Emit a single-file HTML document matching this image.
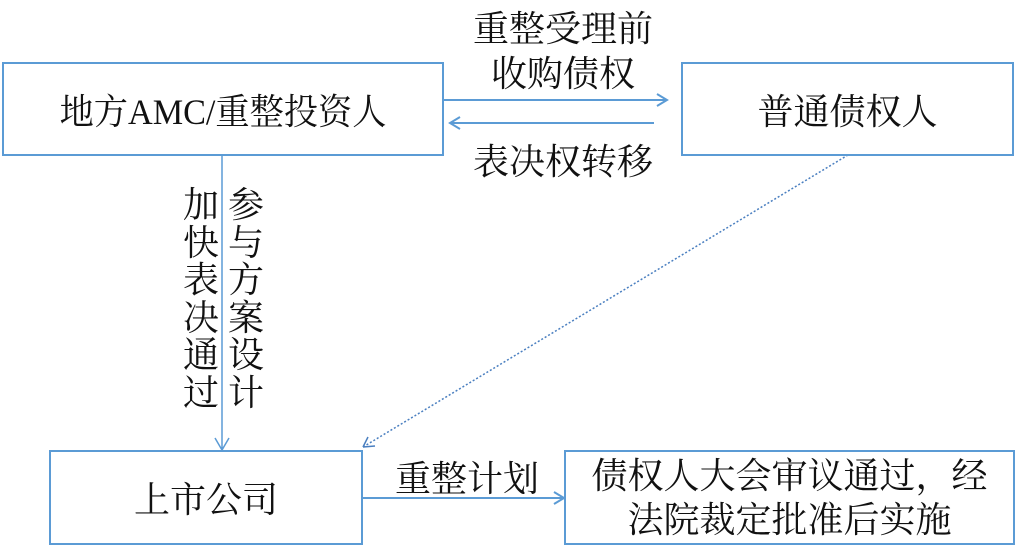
<!DOCTYPE html>
<html><head><meta charset="utf-8"><style>
body{margin:0;width:1020px;height:547px;background:#fff;overflow:hidden;position:relative;font-family:"Liberation Serif","Noto Serif CJK SC",serif;color:#111}
.b{position:absolute;border:2px solid #5b9bd5;box-sizing:border-box;display:flex;align-items:center;justify-content:center;font-size:36px}
.t{position:absolute;font-size:36px;line-height:1;white-space:nowrap}
.v{position:absolute;font-size:36px;line-height:37.5px;width:38px;text-align:center}
</style></head><body>
<svg width="1020" height="547" style="position:absolute;left:0;top:0" fill="none" stroke="#5b9bd5" stroke-width="2">
<path d="M443 100H667M657 94L667 100L657 106"/>
<path d="M654 123H450M460 117L450 123L460 129"/>
<path d="M222 155V450M215 438L222 450L229 438" stroke-width="1.5"/>
<path d="M848 155L363 447" stroke-dasharray="2 2" stroke-width="1.5" stroke="#4a7fc0"/>
<path d="M363 447L368 437M363 447L375 446" stroke-width="1.5" stroke="#4a7fc0"/>
<path d="M362 498H564M554 492L564 498L554 504"/>
</svg>
<div class="b" style="left:2px;top:62px;width:442px;height:94px"><span style="display:inline-block;transform:scaleX(0.95)">地方AMC/重整投资人</span></div>
<div class="b" style="left:681px;top:62px;width:333px;height:94px">普通债权人</div>
<div class="b" style="left:49px;top:450px;width:314px;height:95px">上市公司</div>
<div class="b" style="left:564px;top:450px;width:451px;height:95px;line-height:44px;font-size:36px;text-align:center"><div>债权人大会审议通过，经<br>法院裁定批准后实施</div></div>
<div class="t" style="left:473px;top:11px">重整受理前</div>
<div class="t" style="left:491px;top:56px">收购债权</div>
<div class="t" style="left:473px;top:144px">表决权转移</div>
<div class="t" style="left:395px;top:461px">重整计划</div>
<div class="v" style="left:182px;top:187px">加<br>快<br>表<br>决<br>通<br>过</div>
<div class="v" style="left:227px;top:187px">参<br>与<br>方<br>案<br>设<br>计</div>
</body></html>
